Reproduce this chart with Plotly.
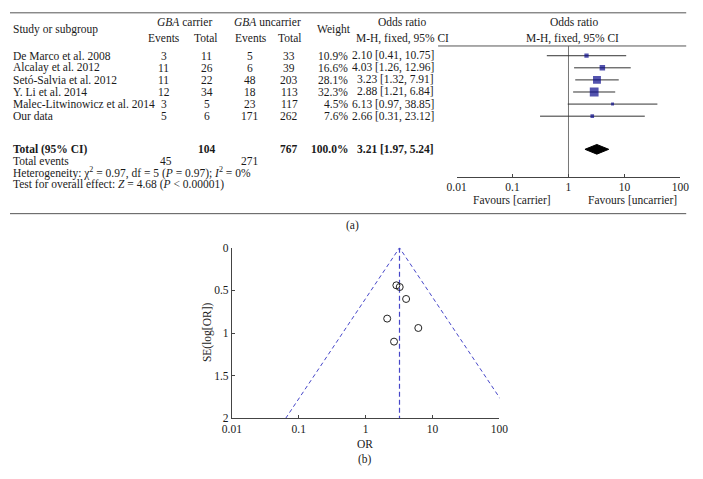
import math
import plotly.graph_objects as go

# ---------------- data ----------------
studies = ["De Marco et al. 2008", "Alcalay et al. 2012", "Setó-Salvia et al. 2012",
           "Y. Li et al. 2014", "Malec-Litwinowicz et al. 2014", "Our data"]
carrier_events = [3, 11, 11, 12, 3, 5]
carrier_total = [11, 26, 22, 34, 5, 6]
uncarrier_events = [5, 6, 48, 18, 23, 171]
uncarrier_total = [33, 39, 203, 113, 117, 262]
weights = [10.9, 16.6, 28.1, 32.3, 4.5, 7.6]
odds = [2.10, 4.03, 3.23, 2.88, 6.13, 2.66]
ci_low = [0.41, 1.26, 1.32, 1.21, 0.97, 0.31]
ci_high = [10.75, 12.96, 7.91, 6.84, 38.85, 23.12]
pooled_or, pooled_lo, pooled_hi = 3.21, 1.97, 5.24
se_log_or = [0.83, 0.60, 0.46, 0.44, 0.94, 1.10]
tick_vals = [0.01, 0.1, 1, 10, 100]
tick_text = ["0.01", "0.1", "1", "10", "100"]
se_ticks = [0, 0.5, 1, 1.5, 2]
se_tick_text = ["0", "0.5", "1", "1.5", "2"]

# ---------------- layout helpers ----------------
W, H = 703, 479
FONT = "Liberation Serif"
FS = 11.5
TXT = "#1a1a1a"
NAVY = "#0a0a8c"
DASH = "#4646c8"


def px(x):
    return x / W


def py(y):
    return 1 - y / H


ROW0, ROWD = 51, 12.4
row_px = [ROW0 + ROWD * i for i in range(len(studies))]
TOTAL_PX = 147


def to_row(p):
    return (p - ROW0) / ROWD


fig = go.Figure()

# ---------------- forest plot ----------------
fig.add_trace(go.Scatter(
    x=[1, 1], y=[to_row(41), to_row(175)], mode="lines",
    line=dict(color="#777777", width=1), xaxis="x", yaxis="y",
    hoverinfo="skip", showlegend=False))

# confidence intervals (drawn under the squares)
fig.add_trace(go.Scatter(
    x=odds, y=[to_row(p) for p in row_px], mode="markers",
    marker=dict(size=1, opacity=0),
    error_x=dict(type="data", symmetric=False,
                 array=[h - o for h, o in zip(ci_high, odds)],
                 arrayminus=[o - l for o, l in zip(odds, ci_low)],
                 color="#333333", thickness=1, width=0),
    xaxis="x", yaxis="y", hoverinfo="skip", showlegend=False))

fig.add_trace(go.Scatter(
    x=odds, y=[to_row(p) for p in row_px], mode="markers",
    marker=dict(symbol="square", color=NAVY, size=[2 + 0.21 * w for w in weights],
                line=dict(width=0)),
    xaxis="x", yaxis="y", showlegend=False))

tr = to_row(TOTAL_PX)
fig.add_trace(go.Scatter(
    x=[pooled_lo, pooled_or, pooled_hi, pooled_or, pooled_lo],
    y=[tr, tr - 0.4, tr, tr + 0.4, tr], mode="lines", fill="toself",
    fillcolor="black", line=dict(color="black", width=1),
    xaxis="x", yaxis="y", showlegend=False))

# ---------------- funnel plot ----------------
z = 1.96
lo_end = math.exp(math.log(pooled_or) - z * 2)
hi_end = math.exp(math.log(pooled_or) + z * 2)
fig.add_trace(go.Scatter(
    x=[lo_end, pooled_or, hi_end], y=[2, 0, 2], mode="lines",
    line=dict(color=DASH, width=1, dash="4px,3px"), xaxis="x2", yaxis="y2",
    showlegend=False))
fig.add_trace(go.Scatter(
    x=[pooled_or, pooled_or], y=[0, 2], mode="lines",
    line=dict(color=DASH, width=1.2, dash="5px,3px"), xaxis="x2", yaxis="y2",
    showlegend=False))
fig.add_trace(go.Scatter(
    x=odds, y=se_log_or, mode="markers",
    marker=dict(symbol="circle-open", size=7, color="#222222", line=dict(width=1)),
    xaxis="x2", yaxis="y2", showlegend=False))

axis_common = dict(showgrid=False, zeroline=False, showline=True, linecolor="#444444",
                   linewidth=1, ticks="inside", ticklen=3, tickcolor="#444444",
                   tickfont=dict(family=FONT, size=FS, color=TXT))

fig.update_layout(
    width=W, height=H, margin=dict(l=0, r=0, t=0, b=0),
    paper_bgcolor="white", plot_bgcolor="rgba(0,0,0,0)",
    font=dict(family=FONT, size=FS, color=TXT),
    xaxis=dict(type="log", range=[-2, 2], domain=[px(459), px(689)],
               tickvals=tick_vals, ticktext=tick_text, anchor="y", **axis_common),
    yaxis=dict(range=[to_row(175), to_row(41)], domain=[py(175), py(41)],
               visible=False, anchor="x"),
    xaxis2=dict(type="log", range=[-2, 2], domain=[px(228), px(503)],
                tickvals=tick_vals, ticktext=tick_text, anchor="y2", **axis_common),
    yaxis2=dict(range=[2, 0], domain=[py(423), py(248)], tickvals=se_ticks,
                ticktext=se_tick_text, anchor="x2", **axis_common),
)

# ---------------- table text ----------------
ann = []


def text(s, x, y, align="center", angle=0):
    ann.append(dict(text=s, x=px(x), y=py(y), xref="paper", yref="paper",
                    xanchor=align, yanchor="middle", showarrow=False, textangle=angle,
                    font=dict(family=FONT, size=FS, color=TXT)))


LEFT = 1
# headers
text("Study or subgroup", LEFT, 24, "left")
text("<i>GBA</i> carrier", 179, 16)
text("Events", 158, 33)
text("Total", 201, 33)
text("<i>GBA</i> uncarrier", 265, 16)
text("Events", 248, 33)
text("Total", 287, 33)
text("Weight", 333, 24)
text("Odds ratio", 403, 16)
text("M-H, fixed, 95% CI", 403, 33)
text("Odds ratio", 580, 16)
text("M-H, fixed, 95% CI", 578, 33)

for i, name in enumerate(studies):
    y = row_px[i]
    text(name, LEFT, y, "left")
    text(str(carrier_events[i]), 158, y)
    text(str(carrier_total[i]), 202, y)
    text(str(uncarrier_events[i]), 247, y)
    text(str(uncarrier_total[i]), 287, y)
    text(f"{weights[i]:.1f}%", 349, y, "right")
    text(f"{odds[i]:.2f} [{ci_low[i]:.2f}, {ci_high[i]:.2f}]", 438, y, "right")

text("<b>Total (95% CI)</b>", LEFT, TOTAL_PX, "left")
text(f"<b>{sum(carrier_total)}</b>", 202, TOTAL_PX)
text(f"<b>{sum(uncarrier_total)}</b>", 287, TOTAL_PX)
text(f"<b>{sum(weights):.1f}%</b>", 349, TOTAL_PX, "right")
text(f"<b>{pooled_or:.2f} [{pooled_lo:.2f}, {pooled_hi:.2f}]</b>", 438, TOTAL_PX, "right")
text("Total events", LEFT, 159, "left")
text(str(sum(carrier_events)), 160, 159)
text(str(sum(uncarrier_events)), 247, 159)
text("Heterogeneity: χ<sup>2</sup> = 0.97, df = 5 (<i>P</i> = 0.97); <i>I</i><sup>2</sup> = 0%",
     LEFT, 171, "left")
text("Test for overall effect: <i>Z</i> = 4.68 (<i>P</i> < 0.00001)", LEFT, 183, "left")

text("Favours [carrier]", 516, 199)
text("Favours [uncarrier]", 640, 199)
text("(a)", 352, 225)

text("SE(log[OR])", 203, 335, angle=-90)
text("OR", 365, 449)
text("(b)", 365, 465)

fig.update_layout(annotations=ann)

# rules
line = dict(color="#555555", width=1)
fig.add_shape(type="line", xref="paper", yref="paper", x0=0, x1=px(695),
              y0=py(7), y1=py(7), line=line)
fig.add_shape(type="line", xref="paper", yref="paper", x0=px(440), x1=px(695),
              y0=py(41), y1=py(41), line=line)
fig.add_shape(type="line", xref="paper", yref="paper", x0=0, x1=px(695),
              y0=py(213), y1=py(213), line=line)

# remove the default 8px page margin so the 703x479 figure fills the window
fig.write_html(
    "out.html",
    config={"displayModeBar": False},
    post_script="document.body.style.margin='0px';document.body.style.padding='0px';"
                "document.body.style.overflow='hidden';",
)
